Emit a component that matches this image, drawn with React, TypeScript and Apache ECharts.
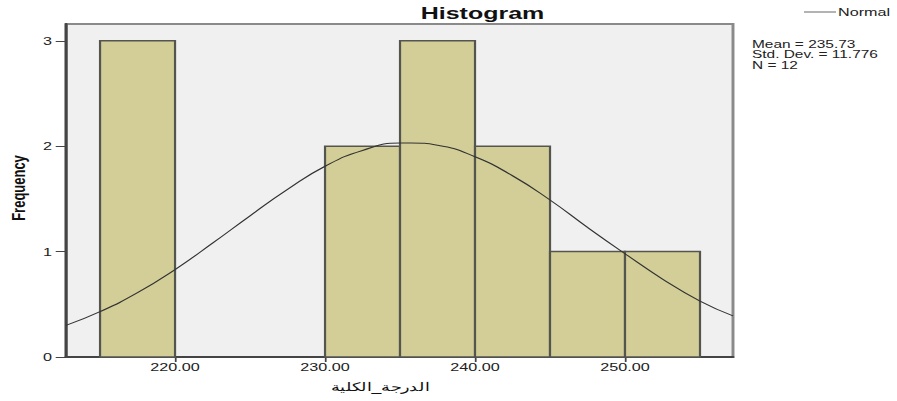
import React, { useEffect, useRef } from "react";
import * as echarts from "echarts";

const binStarts = [215, 230, 235, 240, 245, 250];
const binEnds = [220, 235, 240, 245, 250, 255];
const counts = [3, 2, 3, 2, 1, 1];
const xTicks = [220, 230, 240, 250];
const yTicks = [0, 1, 2, 3];
const curveX = [212.73, 215, 217.5, 220, 222.5, 225, 227.5, 230, 232.5, 235, 235.73, 237.5, 240, 242.5, 245, 247.5, 250, 252.5, 255, 257.2];
const curveY = [0.30, 0.43, 0.61, 0.83, 1.08, 1.34, 1.59, 1.81, 1.96, 2.03, 2.03, 2.01, 1.9, 1.72, 1.49, 1.23, 0.98, 0.74, 0.53, 0.39];
const statsLines = ["Mean = 235.73", "Std. Dev. = 11.776", "N = 12"];

// The reference picture is horizontally stretched; draw at a narrower width and stretch it.
const OUTER_W = 897;
const INNER_W = 610;
const SX = OUTER_W / INNER_W;
const H = 401;

export default function App() {
  const ref = useRef<HTMLDivElement>(null);
  useEffect(() => {
    if (!ref.current) return;
    const chart = echarts.init(ref.current, null, { renderer: "svg" });
    const font = "Arial, 'Liberation Sans', sans-serif";
    const ix = (x: number) => x / SX;
    chart.setOption({
      animation: false,
      backgroundColor: "#ffffff",
      grid: {
        left: ix(66),
        right: INNER_W - ix(733),
        top: 24,
        bottom: 44,
        show: true,
        backgroundColor: "#F0F0F0",
        borderColor: "#8a8a8a",
        borderWidth: 2,
      },
      xAxis: {
        type: "value",
        min: 212.73,
        max: 257.2,
        splitLine: { show: false },
        axisLine: { show: true, lineStyle: { color: "#444", width: 2 } },
        axisTick: { show: true, customValues: xTicks, length: 5, lineStyle: { color: "#444", width: 1.2 } },
        axisLabel: {
          customValues: xTicks,
          formatter: (v: number) => v.toFixed(2),
          color: "#222",
          fontFamily: font,
          fontSize: 11,
          margin: 5,
        },
      },
      yAxis: {
        type: "value",
        min: 0,
        max: 3.16,
        splitLine: { show: false },
        axisLine: { show: true, lineStyle: { color: "#444", width: 2 } },
        axisTick: { show: true, customValues: yTicks, length: 7, lineStyle: { color: "#444", width: 1 } },
        axisLabel: {
          customValues: yTicks,
          color: "#222",
          fontFamily: font,
          fontSize: 11,
          margin: 9.5,
        },
      },
      series: [
        {
          type: "custom",
          renderItem: (params: any, api: any) => {
            const s = api.value(0);
            const e = api.value(1);
            const c = api.value(2);
            const p0 = api.coord([s, c]);
            const p1 = api.coord([e, 0]);
            return {
              type: "rect",
              shape: { x: p0[0], y: p0[1], width: p1[0] - p0[0], height: p1[1] - p0[1] },
              style: { fill: "#D3CE97", stroke: "#555550", lineWidth: 1.5 },
            };
          },
          encode: { x: [0, 1], y: 2 },
          data: binStarts.map((s, i) => [s, binEnds[i], counts[i]]),
          z: 2,
        },
        {
          type: "line",
          name: "Normal",
          smooth: true,
          showSymbol: false,
          symbol: "none",
          lineStyle: { color: "#333", width: 1 },
          data: curveX.map((x, i) => [x, curveY[i]]),
          z: 3,
        },
      ],
      graphic: [
        {
          type: "text",
          x: ix(482.5),
          y: 13,
          style: {
            text: "Histogram",
            fontFamily: font,
            fontSize: 17,
            fontWeight: "bold",
            fill: "#111",
            align: "center",
            verticalAlign: "middle",
          },
        },
        {
          type: "line",
          shape: { x1: ix(804), y1: 12, x2: ix(836), y2: 12 },
          style: { stroke: "#666", lineWidth: 1 },
        },
        {
          type: "text",
          x: ix(838),
          y: 12,
          style: { text: "Normal", fontFamily: font, fontSize: 11, fill: "#222", verticalAlign: "middle" },
        },
        {
          type: "text",
          x: ix(752),
          y: 39,
          style: { text: statsLines.join("\n"), fontFamily: font, fontSize: 10.5, lineHeight: 10.5, fill: "#222" },
        },
        {
          type: "text",
          x: ix(17.5),
          y: 188,
          rotation: Math.PI / 2,
          style: {
            text: "Frequency",
            fontFamily: font,
            fontSize: 13,
            fontWeight: "bold",
            fill: "#111",
            align: "center",
            verticalAlign: "middle",
          },
        },
        {
          type: "text",
          x: ix(380),
          y: 387,
          style: {
            text: "الدرجة_الكلية",
            fontFamily: font,
            fontSize: 12,
            fill: "#111",
            align: "center",
            verticalAlign: "middle",
          },
        },
      ],
    });
    return () => chart.dispose();
  }, []);
  return (
    <div style={{ position: "fixed", left: 0, top: 0, width: OUTER_W, height: H, overflow: "hidden", background: "#fff" }}>
      <div
        ref={ref}
        style={{ width: INNER_W, height: H, transform: `scaleX(${SX})`, transformOrigin: "0 0" }}
      />
    </div>
  );
}
